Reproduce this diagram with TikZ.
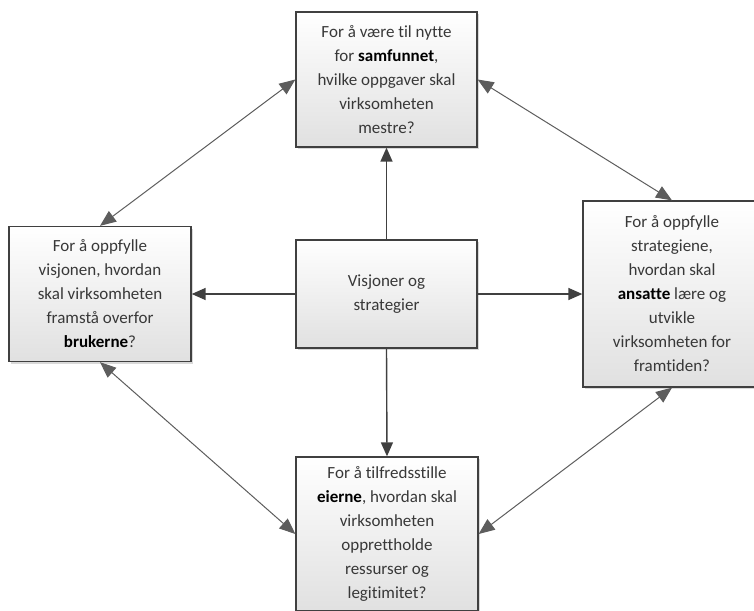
\documentclass[tikz,border=0pt]{standalone}
\usepackage{fontspec}
\setmainfont{Carlito}[Ligatures=NoCommon]
\usepackage{xcolor}
\usetikzlibrary{arrows.meta,shadows}
\definecolor{boxline}{HTML}{404040}
\definecolor{boxtext}{HTML}{383838}
\tikzset{
    question-box/.style = {draw=boxline, line width=1.3pt, rectangle, top color=white, bottom color=black!12, drop shadow={shadow xshift=2pt, shadow yshift=-2pt, fill=black!15, opacity=1}, text=boxtext, font=\fontsize{17}{24}\selectfont, align=center, inner sep=0pt},
    main-arrow/.style = {draw=boxline, line width=1.4pt, -{Triangle[length=14pt,width=12pt]}},
    link-arrow/.style = {draw=boxline!85, line width=1pt, {Triangle[length=16pt,width=13pt]}-{Triangle[length=16pt,width=13pt]}},
}

\begin{document}
\begin{tikzpicture}[x=1pt,y=-1pt]
\useasboundingbox (0,0) rectangle (754,610);
\node [question-box, minimum width=181pt, minimum height=108pt] (visjon) at (386.5,294) {Visjoner og\\ strategier};
\node [question-box, minimum width=181pt, minimum height=135pt] (samfunn) at (386.5,79.5) {For å være til nytte\\ for \textbf{\color{black}samfunnet},\\ hvilke oppgaver skal\\ virksomheten\\ mestre?};
\node [question-box, minimum width=182pt, minimum height=135pt] (brukere) at (100,294) {For å oppfylle\\ visjonen, hvordan\\ skal virksomheten\\ framstå overfor\\ \textbf{\color{black}brukerne}?};
\node [question-box, minimum width=178pt, minimum height=186pt] (ansatte) at (672,294) {For å oppfylle\\ strategiene,\\ hvordan skal\\ \textbf{\color{black}ansatte} lære og\\ utvikle\\ virksomheten for\\ framtiden?};
\node [question-box, minimum width=182pt, minimum height=154pt] (eiere) at (387,534) {For å tilfredsstille\\ \textbf{\color{black}eierne}, hvordan skal\\ virksomheten\\ opprettholde\\ ressurser og\\ legitimitet?};

% fra visjon og strategi
\draw [main-arrow] (visjon.north) -- (samfunn.south);
\draw [main-arrow] (visjon.west) -- (brukere.east);
\draw [main-arrow] (visjon.east) -- (ansatte.west);
\draw [main-arrow] (visjon.south) -- (eiere.north);

% mellom perspektivene
\draw [link-arrow] (samfunn.west) -- (brukere.north);
\draw [link-arrow] (samfunn.east) -- (ansatte.north);
\draw [link-arrow] (brukere.south) -- (eiere.west);
\draw [link-arrow] (ansatte.south) -- (eiere.east);
\end{tikzpicture}
\end{document}
